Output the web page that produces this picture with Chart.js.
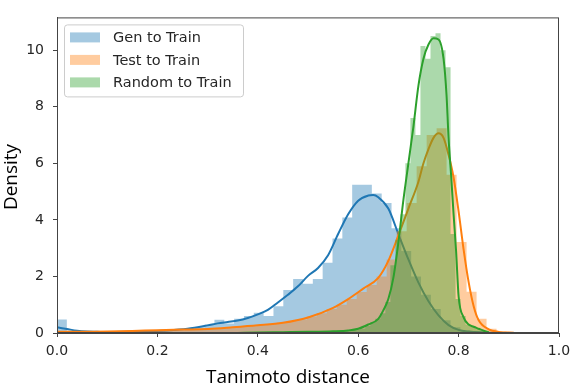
<!DOCTYPE html>
<html>
<head>
<meta charset="utf-8">
<script src="https://cdn.jsdelivr.net/npm/chart.js@4.4.0/dist/chart.umd.min.js"></script>
<style>
  html, body { margin: 0; padding: 0; background: #fff; }
  #wrap { width: 577px; height: 388px; }
</style>
</head>
<body>
<div id="wrap"><canvas id="chart" width="577" height="388"></canvas></div>
<script>
// Series names
const seriesNames = ['Gen to Train', 'Test to Train', 'Random to Train'];

// Histograms (density): first bin edge, bin width, bar heights
const genStart = 0.0, genWidth = 0.0196;
const genHist = [0.48, 0.08, 0.04, 0.03, 0.03, 0.02, 0.03, 0.03, 0.04, 0.04,
                 0.06, 0.07, 0.09, 0.12, 0.2, 0.3, 0.47, 0.34, 0.5, 0.6,
                 0.72, 0.6, 0.95, 1.52, 1.91, 1.74, 1.91, 2.48, 3.34, 4.08,
                 5.24, 5.24, 4.93, 4.6, 3.7, 2.9, 2.0, 1.35, 0.85, 0.45,
                 0.2, 0.09, 0.04, 0.02];

const testStart = 0.0, testWidth = 0.0199;
const testHist = [0.05, 0.04, 0.03, 0.04, 0.04, 0.05, 0.05, 0.06, 0.07, 0.08,
                  0.1, 0.1, 0.11, 0.12, 0.13, 0.14, 0.16, 0.18, 0.22, 0.24,
                  0.27, 0.32, 0.36, 0.42, 0.48, 0.58, 0.7, 0.85, 1.0, 1.2,
                  1.45, 1.7, 2.0, 2.6, 3.6, 4.6, 5.9, 7.0, 7.24, 5.6,
                  3.22, 1.46, 0.5, 0.15, 0.05, 0.02];

const randStart = 0.364, randWidth = 0.01;
const randHist = [0.01, 0.01, 0.02, 0.01, 0.02, 0.02, 0.02, 0.03, 0.02, 0.03,
                  0.03, 0.04, 0.03, 0.04, 0.04, 0.05, 0.05, 0.06, 0.06, 0.07,
                  0.08, 0.09, 0.1, 0.12, 0.16, 0.25, 0.38, 0.5, 0.7, 1.1,
                  2.4, 3.3, 4.2, 6.0, 7.6, 7.0, 10.15, 9.7, 10.5, 10.6,
                  10.0, 9.4, 3.5, 1.2, 0.6, 0.3, 0.22, 0.15, 0.08, 0.03];

// KDE curves
const genKdeX = [0.0, 0.02, 0.04, 0.06, 0.08, 0.10, 0.14, 0.18, 0.22, 0.26,
                 0.30, 0.32, 0.34, 0.36, 0.38, 0.40, 0.42, 0.44, 0.46, 0.48,
                 0.50, 0.52, 0.54, 0.56, 0.58, 0.60, 0.62, 0.63, 0.64, 0.66,
                 0.68, 0.70, 0.72, 0.74, 0.76, 0.78, 0.80, 0.82, 0.85, 0.88];
const genKdeY = [0.2, 0.14, 0.08, 0.05, 0.04, 0.03, 0.04, 0.06, 0.09, 0.15,
                 0.27, 0.34, 0.39, 0.44, 0.53, 0.66, 0.82, 1.08, 1.35, 1.65,
                 2.02, 2.3, 2.75, 3.5, 4.2, 4.68, 4.86, 4.88, 4.8, 4.4,
                 3.5, 2.6, 1.78, 1.12, 0.62, 0.28, 0.11, 0.05, 0.02, 0.01];

const testKdeX = [0.0, 0.05, 0.1, 0.15, 0.2, 0.25, 0.3, 0.35, 0.4, 0.45,
                  0.5, 0.55, 0.58, 0.61, 0.64, 0.66, 0.68, 0.70, 0.72, 0.73,
                  0.74, 0.75, 0.76, 0.77, 0.78, 0.79, 0.80, 0.81, 0.82, 0.83,
                  0.84, 0.86, 0.88, 0.91];
const testKdeY = [0.04, 0.04, 0.05, 0.07, 0.1, 0.12, 0.14, 0.2, 0.27, 0.36,
                  0.55, 0.89, 1.2, 1.57, 1.95, 2.55, 3.45, 4.4, 5.35, 6.0,
                  6.5, 6.9, 7.06, 6.9, 6.3, 5.5, 4.3, 2.95, 1.8, 0.95,
                  0.45, 0.13, 0.04, 0.01];

const randKdeX = [0.36, 0.40, 0.45, 0.50, 0.55, 0.58, 0.60, 0.62, 0.64, 0.65,
                  0.66, 0.67, 0.68, 0.69, 0.70, 0.71, 0.72, 0.73, 0.74, 0.75,
                  0.76, 0.77, 0.776, 0.78, 0.785, 0.79, 0.795, 0.80, 0.81, 0.82,
                  0.83, 0.84, 0.85, 0.86];
const randKdeY = [0.0, 0.02, 0.03, 0.04, 0.06, 0.09, 0.15, 0.3, 0.5, 0.8,
                  1.2, 1.95, 3.2, 4.7, 6.0, 7.3, 8.75, 9.7, 10.2, 10.42,
                  10.38, 9.7, 8.4, 6.9, 5.6, 4.2, 2.9, 1.3, 0.55, 0.3,
                  0.22, 0.15, 0.08, 0.03];

// Axis ticks
const xTicks = [0.0, 0.2, 0.4, 0.6, 0.8, 1.0];
const yTicks = [0, 2, 4, 6, 8, 10];

const lineColors = ['#1f77b4', '#ff7f0e', '#2ca02c'];
const histFill = ['rgba(31,119,180,0.4)', 'rgba(255,127,14,0.4)', 'rgba(44,160,44,0.4)'];

function histPoints(start, width, heights) {
  const pts = heights.map((h, i) => ({ x: start + width * i, y: h }));
  pts.push({ x: start + width * heights.length, y: 0 });
  return pts;
}
function kdePoints(xs, ys) {
  return xs.map((x, i) => ({ x: x, y: ys[i] }));
}

function histSet(i, pts, order) {
  return {
    label: seriesNames[i], data: pts, stepped: 'before', fill: 'origin',
    backgroundColor: histFill[i], borderColor: 'rgba(0,0,0,0)', borderWidth: 0,
    pointRadius: 0, order: order
  };
}
function kdeSet(i, pts, order) {
  return {
    label: seriesNames[i] + ' kde', data: pts, fill: false,
    borderColor: lineColors[i], borderWidth: 2, pointRadius: 0,
    cubicInterpolationMode: 'monotone', order: order
  };
}

// frame around the plot
const framePlugin = {
  id: 'frame',
  afterDatasetsDraw(chart) {
    const { ctx, chartArea: a } = chart;
    ctx.save();
    ctx.strokeStyle = '#444';
    ctx.lineWidth = 1;
    ctx.strokeRect(a.left + 0.5, a.top + 0.5, a.right - a.left - 1, a.bottom - a.top - 1);
    ctx.restore();
  }
};

// legend box inside top-left of the plot
const legendPlugin = {
  id: 'boxLegend',
  afterDraw(chart) {
    const { ctx, chartArea: a } = chart;
    const x0 = a.left + 7, y0 = a.top + 7;
    ctx.save();
    ctx.beginPath();
    ctx.roundRect(x0 + 0.5, y0 + 0.5, 179, 72, 3);
    ctx.fillStyle = 'rgba(255,255,255,0.8)';
    ctx.fill();
    ctx.strokeStyle = '#cccccc';
    ctx.lineWidth = 1;
    ctx.stroke();
    ctx.font = '14.5px "DejaVu Sans"';
    ctx.textBaseline = 'middle';
    seriesNames.forEach((name, i) => {
      const cy = y0 + 13 + i * 22.5;
      ctx.fillStyle = histFill[i];
      ctx.fillRect(x0 + 6, cy - 5, 30, 10);
      ctx.fillStyle = '#262626';
      ctx.fillText(name, x0 + 49, cy + 1);
    });
    ctx.restore();
  }
};

// axis titles
const titlePlugin = {
  id: 'axisTitles',
  afterDraw(chart) {
    const ctx = chart.ctx;
    ctx.save();
    ctx.font = '19px "Open Sans"';
    ctx.fillStyle = '#000';
    ctx.textAlign = 'center';
    ctx.textBaseline = 'alphabetic';
    ctx.fillText('Tanimoto distance', 288, 383);
    ctx.translate(17, 177);
    ctx.rotate(-Math.PI / 2);
    ctx.fillText('Density', 0, 0);
    ctx.restore();
  }
};

Chart.defaults.font.family = '"DejaVu Sans"';
Chart.defaults.color = '#262626';

new Chart(document.getElementById('chart'), {
  type: 'line',
  data: {
    datasets: [
      histSet(0, histPoints(genStart, genWidth, genHist), 6),
      kdeSet(0, kdePoints(genKdeX, genKdeY), 5),
      histSet(1, histPoints(testStart, testWidth, testHist), 4),
      kdeSet(1, kdePoints(testKdeX, testKdeY), 3),
      histSet(2, histPoints(randStart, randWidth, randHist), 2),
      kdeSet(2, kdePoints(randKdeX, randKdeY), 1)
    ]
  },
  options: {
    responsive: false,
    animation: false,
    layout: { padding: { top: 6, right: 18, left: 0, bottom: 0 } },
    plugins: {
      legend: { display: false },
      tooltip: { enabled: false }
    },
    scales: {
      x: {
        type: 'linear',
        min: 0, max: 1,
        afterFit: s => { s.height = 55; },
        afterBuildTicks: s => { s.ticks = xTicks.map(v => ({ value: v })); },
        ticks: {
          font: { size: 14 },
          padding: 6,
          callback: v => Number(v).toFixed(1)
        },
        grid: { drawOnChartArea: false, drawTicks: true, tickLength: 4, color: '#444' },
        border: { display: true, color: '#444' }
      },
      y: {
        min: 0, max: 11.16,
        afterFit: s => { s.width = 57; },
        afterBuildTicks: s => { s.ticks = yTicks.map(v => ({ value: v })); },
        ticks: {
          font: { size: 14 },
          padding: 9,
          callback: v => String(v)
        },
        grid: { drawOnChartArea: false, drawTicks: true, tickLength: 4, color: '#444' },
        border: { display: true, color: '#444' }
      }
    }
  },
  plugins: [framePlugin, legendPlugin, titlePlugin]
});
</script>
</body>
</html>
